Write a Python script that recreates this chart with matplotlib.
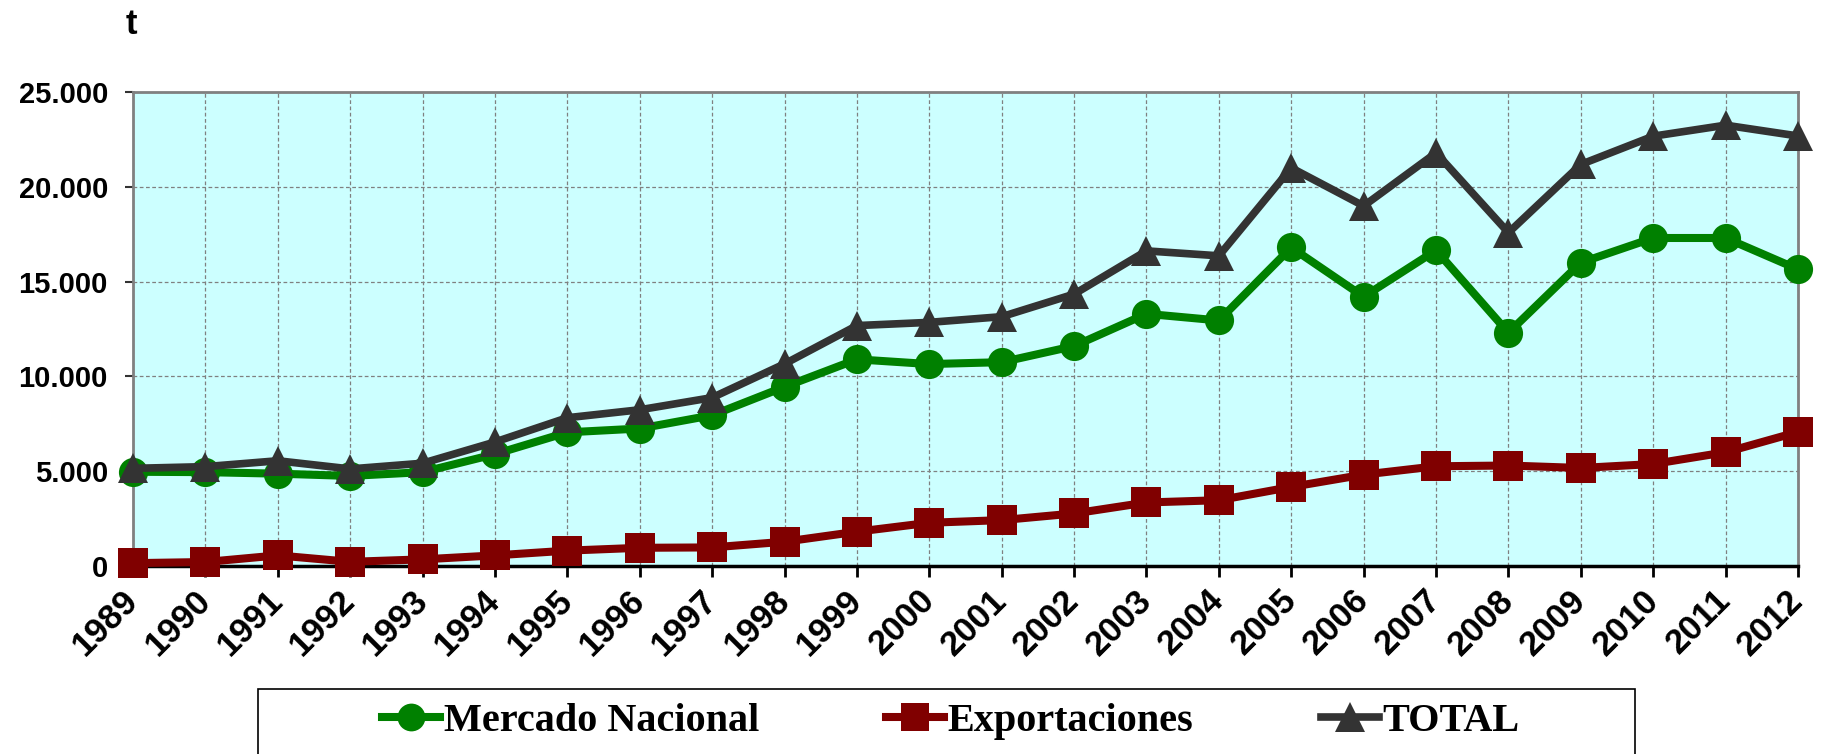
import matplotlib
matplotlib.use("Agg")
import matplotlib.pyplot as plt
from matplotlib.lines import Line2D
from matplotlib.patches import Rectangle

plt.rcParams["font.family"] = "Liberation Sans"

years = list(range(1989, 2013))
mercado_nacional = [4970, 4950, 4870, 4750, 4950, 5900, 7050, 7250, 7950, 9450,
                    10900, 10650, 10750, 11600, 13300, 12950, 16800, 14200, 16650,
                    12300, 16000, 17300, 17300, 15650]
exportaciones = [150, 210, 560, 220, 350, 560, 810, 960, 980, 1280,
                 1810, 2280, 2420, 2770, 3350, 3470, 4170, 4820, 5260,
                 5300, 5170, 5380, 6000, 7070]
total = [5150, 5240, 5550, 5120, 5420, 6540, 7820, 8240, 8880, 10660,
         12680, 12850, 13150, 14340, 16620, 16360, 21000, 18990, 21790,
         17580, 21180, 22670, 23250, 22680]

y_ticks = [0, 5000, 10000, 15000, 20000, 25000]
y_tick_labels = ["0", "5.000", "10.000", "15.000", "20.000", "25.000"]
series_labels = ["Mercado Nacional", "Exportaciones", "TOTAL"]

W, H = 1821, 754
fig = plt.figure(figsize=(W / 100, H / 100), dpi=100)
# axes box in pixels: x 133..1798, y 92..566
ax = fig.add_axes([133 / W, 1 - 566 / H, 1665 / W, 474 / H])
ax.set_facecolor("#ccffff")

styles = [
    dict(color="#008000", marker="o", ms=21, lw=5.8),
    dict(color="#800000", marker="s", ms=21, lw=5.8),
    dict(color="#333333", marker="^", ms=22, lw=5.5),
]
for vals, st, lab in zip([mercado_nacional, exportaciones, total], styles, series_labels):
    ax.plot(years, vals, color=st["color"], lw=st["lw"], marker=st["marker"],
            ms=st["ms"], mfc=st["color"], mec=st["color"], mew=0, clip_on=False,
            zorder=3, label=lab)

ax.set_xlim(1989, 2012)
ax.set_ylim(0, 25000)
ax.set_xticks(years)
ax.set_xticklabels([str(y) for y in years], rotation=45, ha="right", va="center",
                   rotation_mode="anchor", fontsize=25, fontweight="bold")
ax.set_yticks(y_ticks)
ax.set_yticklabels(y_tick_labels, fontsize=21, fontweight="bold")
ax.tick_params(axis="x", length=8, width=2, color="black", pad=13)
ax.tick_params(axis="y", length=6, width=1.5, color="#333333", pad=12)

ax.grid(True, color="#808080", ls=(0, (3, 2)), lw=0.9)
ax.set_axisbelow(True)
for s in ["top", "right", "left"]:
    ax.spines[s].set_color("#808080")
    ax.spines[s].set_linewidth(2)
ax.spines["bottom"].set_color("black")
ax.spines["bottom"].set_linewidth(2.5)

fig.text(131 / W, 1 - 25 / H, "t", fontsize=25, fontweight="bold", ha="center", va="center")

# legend box (runs off the bottom like the original)
fig.patches.append(Rectangle((258 / W, -0.1), (1635 - 258) / W, 0.1 + (754 - 689) / H,
                             transform=fig.transFigure, fill=False, ec="black", lw=1.2))
handle_x = [382, 886, 1321]
for st, lab, hx in zip(styles, series_labels, handle_x):
    h = Line2D([], [], color=st["color"], lw=st["lw"], marker=st["marker"],
               ms=st["ms"] - 1, mfc=st["color"], mec=st["color"], mew=0)
    fig.legend([h], [lab], loc="center left", bbox_to_anchor=(hx / W, 1 - 721 / H),
               frameon=False, handlelength=1.45, handletextpad=0.08, borderpad=0,
               borderaxespad=0, prop=dict(family="Liberation Serif", weight="bold", size=29))

fig.savefig("out.png", dpi=100)
